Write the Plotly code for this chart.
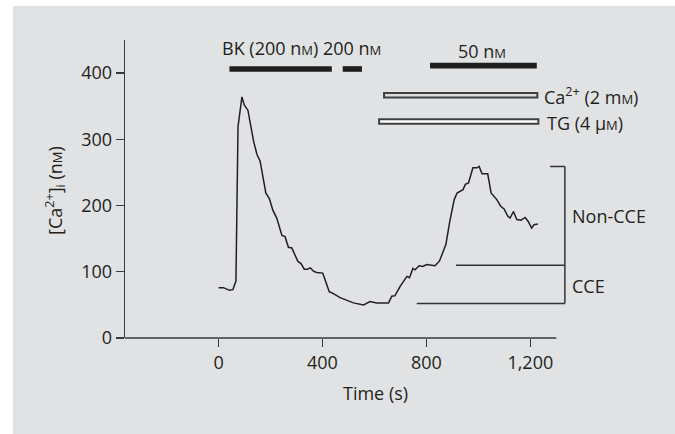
import plotly.graph_objects as go

# ---- data ----
time_s = [0, 19, 42, 55, 67, 75, 90, 99, 113, 135, 148, 160, 182, 196, 209, 224, 244, 256,
          269, 282, 305, 318, 330, 342, 353, 365, 378, 401, 410, 426, 442, 468, 519, 558,
          583, 609, 654, 667, 679, 699, 725, 735, 748, 756, 772, 786, 801, 833, 850, 863,
          875, 889, 907, 918, 928, 941, 950, 962, 979, 995, 1003, 1014, 1036, 1049, 1071,
          1086, 1099, 1113, 1122, 1135, 1148, 1164, 1180, 1192, 1205, 1214, 1229]
ca_nM = [76, 76, 72, 73, 86, 319, 364, 352, 344, 297, 277, 267, 219, 210, 193, 181, 155, 153,
         137, 136, 116, 112, 104, 104, 106, 101, 99, 98, 88, 70, 67, 61, 53, 50,
         55, 53, 53, 63, 64, 78, 93, 91, 105, 103, 109, 108, 111, 109, 116, 128,
         141, 174, 209, 219, 221, 224, 232, 234, 257, 257, 259, 248, 248, 219, 209,
         199, 195, 184, 181, 191, 179, 178, 182, 176, 166, 171, 172]

x_ticks = [0, 400, 800, 1200]
x_tick_labels = ["0", "400", "800", "1,200"]
y_ticks = [0, 100, 200, 300, 400]
y_tick_labels = ["0", "100", "200", "300", "400"]

# treatment bars: (start, end, low, high)
solid_bars_start = [42, 478, 814]
solid_bars_end = [436, 552, 1225]
solid_bars_low = [402, 402, 407]
solid_bars_high = [410.5, 410.5, 415.5]

open_bars_start = [637, 618]
open_bars_end = [1227, 1231]
open_bars_low = [363, 323.5]
open_bars_high = [370, 330.5]
open_bars_fill = ["#dcdcdc", "#ffffff"]

# bracket (Non-CCE / CCE)
bracket_x = 1333
bracket_top = 259
bracket_mid = 110
bracket_bottom = 52
bracket_top_start = 1276
bracket_mid_start = 914
bracket_bottom_start = 763

x_range = [-360, 1345]
y_range = [0, 450]
x_axis_end = 1300

FONT = "Open Sans"
INK = "#231f20"
AX = "#3a3a3a"
BG = "#e1e2e4"

ML, MR, MT, MB = 125, 107, 40, 96
W, H = 675, 434
pw, ph = W - ML - MR, H - MT - MB


def px_to_paper_x(px):
    return (px - ML) / pw


def px_to_paper_y(py):
    return (H - MB - py) / ph


fig = go.Figure()
fig.add_trace(go.Scatter(x=time_s, y=ca_nM, mode="lines",
                         line=dict(color=INK, width=1.5), hoverinfo="skip", showlegend=False))

shapes = []
# grey panel background (white strip at left/top)
shapes.append(dict(type="rect", xref="paper", yref="paper", layer="below",
                   x0=px_to_paper_x(13), x1=2, y0=-2, y1=px_to_paper_y(6),
                   fillcolor=BG, line=dict(width=0)))
# x axis line
shapes.append(dict(type="line", xref="x", yref="paper", x0=x_range[0], x1=x_axis_end,
                   y0=0, y1=0, line=dict(color=AX, width=1.3)))
for s, e, lo, hi in zip(solid_bars_start, solid_bars_end, solid_bars_low, solid_bars_high):
    shapes.append(dict(type="rect", xref="x", yref="y", x0=s, x1=e, y0=lo, y1=hi,
                       fillcolor="#1f1f1f", line=dict(width=0)))
for s, e, lo, hi, f in zip(open_bars_start, open_bars_end, open_bars_low, open_bars_high, open_bars_fill):
    shapes.append(dict(type="rect", xref="x", yref="y", x0=s, x1=e, y0=lo, y1=hi,
                       fillcolor=f, line=dict(color="#404040", width=2)))
bl = dict(color="#333333", width=1.5)
shapes.append(dict(type="line", x0=bracket_x, x1=bracket_x, y0=bracket_bottom, y1=bracket_top, line=bl))
shapes.append(dict(type="line", x0=bracket_top_start, x1=bracket_x, y0=bracket_top, y1=bracket_top, line=bl))
shapes.append(dict(type="line", x0=bracket_mid_start, x1=bracket_x, y0=bracket_mid, y1=bracket_mid, line=bl))
shapes.append(dict(type="line", x0=bracket_bottom_start, x1=bracket_x, y0=bracket_bottom, y1=bracket_bottom, line=bl))

sc = "<span style='font-size:13px'>M</span>"
ann_font = dict(family=FONT, size=18, color=INK)
annotations = [
    dict(x=318, y=438, text=f"BK (200 n{sc}) 200 n{sc}", xanchor="center", yanchor="middle",
         xref="x", yref="y"),
    dict(x=1013, y=433, text=f"50 n{sc}", xanchor="center", yanchor="middle", xref="x", yref="y"),
    dict(x=1246, y=366, text=f"Ca<sup>2+</sup> (2 m{sc})", xanchor="left", yanchor="middle",
         xref="x", yref="y"),
    dict(x=1258, y=324, text=f"TG (4 μ{sc})", xanchor="left", yanchor="middle", xref="x", yref="y"),
    dict(x=px_to_paper_x(570), y=184, text="Non-CCE", xanchor="left", yanchor="middle",
         xref="paper", yref="y"),
    dict(x=px_to_paper_x(570), y=78, text="CCE", xanchor="left", yanchor="middle",
         xref="paper", yref="y"),
    dict(x=603, y=px_to_paper_y(393), text="Time (s)", xanchor="center", yanchor="middle",
         xref="x", yref="paper"),
    dict(x=px_to_paper_x(55), y=222, text=f"[Ca<sup>2+</sup>]<sub>i</sub> (n{sc})", textangle=-90,
         xanchor="center", yanchor="middle", xref="paper", yref="y"),
]
for a in annotations:
    a.update(showarrow=False, font=ann_font)

fig.update_layout(
    width=W, height=H,
    margin=dict(l=ML, r=MR, t=MT, b=MB, pad=0),
    paper_bgcolor="#ffffff",
    plot_bgcolor="rgba(0,0,0,0)",
    font=dict(family=FONT, size=18, color=INK),
    shapes=shapes,
    annotations=annotations,
    showlegend=False,
    hovermode=False,
    xaxis=dict(range=x_range, showgrid=False, zeroline=False, showline=False,
               ticks="outside", ticklen=8, tickwidth=1.3, tickcolor=AX,
               tickvals=x_ticks, ticktext=x_tick_labels, ticklabelstandoff=0,
               tickfont=dict(family=FONT, size=18, color=INK)),
    yaxis=dict(range=y_range, showgrid=False, zeroline=False, showline=True,
               linecolor=AX, linewidth=1.3,
               ticks="outside", ticklen=8, tickwidth=1.3, tickcolor=AX,
               tickvals=y_ticks, ticktext=y_tick_labels, ticklabelstandoff=0,
               tickfont=dict(family=FONT, size=18, color=INK)),
)

fig.write_html("out.html", config={"displayModeBar": False, "staticPlot": True},
               post_script="document.body.style.margin='0';")
